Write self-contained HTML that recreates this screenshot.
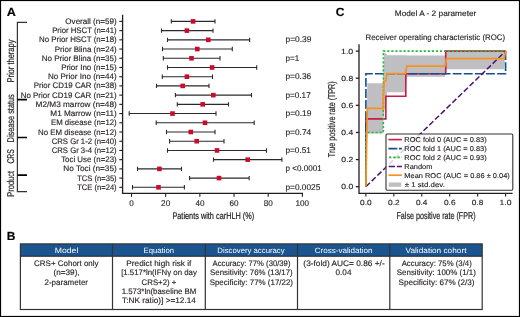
<!DOCTYPE html>
<html><head><meta charset="utf-8"><style>html,body{margin:0;padding:0;background:#fff;width:520px;height:317px;overflow:hidden} svg text{font-family:"Liberation Sans",sans-serif;text-rendering:geometricPrecision} svg{will-change:transform}</style></head>
<body>
<svg width="520" height="317" viewBox="0 0 520 317" style="position:absolute;left:0;top:0">
<rect x="0" y="0" width="520" height="317" fill="#fff"/>
<text x="6.78" y="15.90" font-size="11.8" textLength="9.15" lengthAdjust="spacingAndGlyphs" font-weight="bold" fill="#000" stroke="#000" stroke-width="0.14">A</text>
<path d="M122.6 14.7 V193.3 H303" stroke="#231f20" stroke-width="1.3" fill="none"/>
<path d="M119.30 21.40 H122.6" stroke="#231f20" stroke-width="1.1"/>
<path d="M119.30 30.62 H122.6" stroke="#231f20" stroke-width="1.1"/>
<path d="M119.30 39.83 H122.6" stroke="#231f20" stroke-width="1.1"/>
<path d="M119.30 49.05 H122.6" stroke="#231f20" stroke-width="1.1"/>
<path d="M119.30 58.27 H122.6" stroke="#231f20" stroke-width="1.1"/>
<path d="M119.30 67.48 H122.6" stroke="#231f20" stroke-width="1.1"/>
<path d="M119.30 76.70 H122.6" stroke="#231f20" stroke-width="1.1"/>
<path d="M119.30 85.92 H122.6" stroke="#231f20" stroke-width="1.1"/>
<path d="M119.30 95.14 H122.6" stroke="#231f20" stroke-width="1.1"/>
<path d="M119.30 104.35 H122.6" stroke="#231f20" stroke-width="1.1"/>
<path d="M119.30 113.57 H122.6" stroke="#231f20" stroke-width="1.1"/>
<path d="M119.30 122.79 H122.6" stroke="#231f20" stroke-width="1.1"/>
<path d="M119.30 132.00 H122.6" stroke="#231f20" stroke-width="1.1"/>
<path d="M119.30 141.22 H122.6" stroke="#231f20" stroke-width="1.1"/>
<path d="M119.30 150.44 H122.6" stroke="#231f20" stroke-width="1.1"/>
<path d="M119.30 159.66 H122.6" stroke="#231f20" stroke-width="1.1"/>
<path d="M119.30 168.87 H122.6" stroke="#231f20" stroke-width="1.1"/>
<path d="M119.30 178.09 H122.6" stroke="#231f20" stroke-width="1.1"/>
<path d="M119.30 187.31 H122.6" stroke="#231f20" stroke-width="1.1"/>
<path d="M131.50 193.3 V196.8" stroke="#231f20" stroke-width="1.1"/>
<text x="129.24" y="205.70" font-size="8.3" textLength="4.52" lengthAdjust="spacingAndGlyphs" fill="#231f20" stroke="#231f20" stroke-width="0.14">0</text>
<path d="M165.68 193.3 V196.8" stroke="#231f20" stroke-width="1.1"/>
<text x="161.11" y="205.70" font-size="8.3" textLength="9.05" lengthAdjust="spacingAndGlyphs" fill="#231f20" stroke="#231f20" stroke-width="0.14">20</text>
<path d="M199.86 193.3 V196.8" stroke="#231f20" stroke-width="1.1"/>
<text x="195.40" y="205.70" font-size="8.3" textLength="9.05" lengthAdjust="spacingAndGlyphs" fill="#231f20" stroke="#231f20" stroke-width="0.14">40</text>
<path d="M234.04 193.3 V196.8" stroke="#231f20" stroke-width="1.1"/>
<text x="229.47" y="205.70" font-size="8.3" textLength="9.05" lengthAdjust="spacingAndGlyphs" fill="#231f20" stroke="#231f20" stroke-width="0.14">60</text>
<path d="M268.22 193.3 V196.8" stroke="#231f20" stroke-width="1.1"/>
<text x="263.68" y="205.70" font-size="8.3" textLength="9.05" lengthAdjust="spacingAndGlyphs" fill="#231f20" stroke="#231f20" stroke-width="0.14">80</text>
<path d="M302.40 193.3 V196.8" stroke="#231f20" stroke-width="1.1"/>
<text x="295.46" y="205.70" font-size="8.3" textLength="13.57" lengthAdjust="spacingAndGlyphs" fill="#231f20" stroke="#231f20" stroke-width="0.14">100</text>
<path d="M171.30 21.40 H215.00 M171.30 19.20 V23.60 M215.00 19.20 V23.60" stroke="#2a2a2a" stroke-width="1.1" fill="none"/>
<rect x="190.80" y="19.10" width="4.6" height="4.6" fill="#cc0a2e"/>
<text x="65.32" y="23.90" font-size="8.0" textLength="51.38" lengthAdjust="spacingAndGlyphs" fill="#231f20" stroke="#231f20" stroke-width="0.14">Overall (n=59)</text>
<path d="M161.50 30.62 H213.00 M161.50 28.42 V32.82 M213.00 28.42 V32.82" stroke="#2a2a2a" stroke-width="1.1" fill="none"/>
<rect x="184.60" y="28.32" width="4.6" height="4.6" fill="#cc0a2e"/>
<text x="52.16" y="33.12" font-size="8.0" textLength="64.52" lengthAdjust="spacingAndGlyphs" fill="#231f20" stroke="#231f20" stroke-width="0.14">Prior HSCT (n=41)</text>
<path d="M167.50 39.83 H249.60 M167.50 37.63 V42.03 M249.60 37.63 V42.03" stroke="#2a2a2a" stroke-width="1.1" fill="none"/>
<rect x="206.00" y="37.53" width="4.6" height="4.6" fill="#cc0a2e"/>
<text x="39.05" y="42.33" font-size="8.0" textLength="77.63" lengthAdjust="spacingAndGlyphs" fill="#231f20" stroke="#231f20" stroke-width="0.14">No Prior HSCT (n=18)</text>
<path d="M162.50 49.05 H232.30 M162.50 46.85 V51.25 M232.30 46.85 V51.25" stroke="#2a2a2a" stroke-width="1.1" fill="none"/>
<rect x="195.00" y="46.75" width="4.6" height="4.6" fill="#cc0a2e"/>
<text x="54.85" y="51.55" font-size="8.0" textLength="61.84" lengthAdjust="spacingAndGlyphs" fill="#231f20" stroke="#231f20" stroke-width="0.14">Prior Blina (n=24)</text>
<path d="M163.30 58.27 H220.00 M163.30 56.07 V60.47 M220.00 56.07 V60.47" stroke="#2a2a2a" stroke-width="1.1" fill="none"/>
<rect x="189.20" y="55.97" width="4.6" height="4.6" fill="#cc0a2e"/>
<text x="41.74" y="60.77" font-size="8.0" textLength="74.95" lengthAdjust="spacingAndGlyphs" fill="#231f20" stroke="#231f20" stroke-width="0.14">No Prior Blina (n=35)</text>
<path d="M167.50 67.48 H256.70 M167.50 65.28 V69.69 M256.70 65.28 V69.69" stroke="#2a2a2a" stroke-width="1.1" fill="none"/>
<rect x="209.80" y="65.19" width="4.6" height="4.6" fill="#cc0a2e"/>
<text x="61.15" y="69.98" font-size="8.0" textLength="55.55" lengthAdjust="spacingAndGlyphs" fill="#231f20" stroke="#231f20" stroke-width="0.14">Prior Ino (n=15)</text>
<path d="M162.30 76.70 H212.50 M162.30 74.50 V78.90 M212.50 74.50 V78.90" stroke="#2a2a2a" stroke-width="1.1" fill="none"/>
<rect x="184.60" y="74.40" width="4.6" height="4.6" fill="#cc0a2e"/>
<text x="47.94" y="79.20" font-size="8.0" textLength="68.76" lengthAdjust="spacingAndGlyphs" fill="#231f20" stroke="#231f20" stroke-width="0.14">No Prior Ino (n=44)</text>
<path d="M156.50 85.92 H209.00 M156.50 83.72 V88.12 M209.00 83.72 V88.12" stroke="#2a2a2a" stroke-width="1.1" fill="none"/>
<rect x="180.40" y="83.62" width="4.6" height="4.6" fill="#cc0a2e"/>
<text x="33.75" y="88.42" font-size="8.0" textLength="82.93" lengthAdjust="spacingAndGlyphs" fill="#231f20" stroke="#231f20" stroke-width="0.14">Prior CD19 CAR (n=38)</text>
<path d="M175.40 95.14 H251.50 M175.40 92.94 V97.34 M251.50 92.94 V97.34" stroke="#2a2a2a" stroke-width="1.1" fill="none"/>
<rect x="211.00" y="92.84" width="4.6" height="4.6" fill="#cc0a2e"/>
<text x="20.65" y="97.64" font-size="8.0" textLength="96.04" lengthAdjust="spacingAndGlyphs" fill="#231f20" stroke="#231f20" stroke-width="0.14">No Prior CD19 CAR (n=21)</text>
<path d="M177.30 104.35 H228.50 M177.30 102.15 V106.55 M228.50 102.15 V106.55" stroke="#2a2a2a" stroke-width="1.1" fill="none"/>
<rect x="200.40" y="102.05" width="4.6" height="4.6" fill="#cc0a2e"/>
<text x="35.63" y="106.85" font-size="8.0" textLength="81.08" lengthAdjust="spacingAndGlyphs" fill="#231f20" stroke="#231f20" stroke-width="0.14">M2/M3 marrow (n=48)</text>
<path d="M129.20 113.57 H216.00 M129.20 111.37 V115.77 M216.00 111.37 V115.77" stroke="#2a2a2a" stroke-width="1.1" fill="none"/>
<rect x="170.20" y="111.27" width="4.6" height="4.6" fill="#cc0a2e"/>
<text x="50.34" y="116.07" font-size="8.0" textLength="66.37" lengthAdjust="spacingAndGlyphs" fill="#231f20" stroke="#231f20" stroke-width="0.14">M1 Marrow (n=11)</text>
<path d="M156.20 122.79 H254.20 M156.20 120.59 V124.99 M254.20 120.59 V124.99" stroke="#2a2a2a" stroke-width="1.1" fill="none"/>
<rect x="202.70" y="120.49" width="4.6" height="4.6" fill="#cc0a2e"/>
<text x="50.96" y="125.29" font-size="8.0" textLength="65.72" lengthAdjust="spacingAndGlyphs" fill="#231f20" stroke="#231f20" stroke-width="0.14">EM disease (n=12)</text>
<path d="M166.50 132.00 H215.00 M166.50 129.80 V134.20 M215.00 129.80 V134.20" stroke="#2a2a2a" stroke-width="1.1" fill="none"/>
<rect x="188.50" y="129.70" width="4.6" height="4.6" fill="#cc0a2e"/>
<text x="38.05" y="134.50" font-size="8.0" textLength="78.64" lengthAdjust="spacingAndGlyphs" fill="#231f20" stroke="#231f20" stroke-width="0.14">No EM disease (n=12)</text>
<path d="M169.60 141.22 H224.00 M169.60 139.02 V143.42 M224.00 139.02 V143.42" stroke="#2a2a2a" stroke-width="1.1" fill="none"/>
<rect x="194.40" y="138.92" width="4.6" height="4.6" fill="#cc0a2e"/>
<text x="51.71" y="143.72" font-size="8.0" textLength="64.97" lengthAdjust="spacingAndGlyphs" fill="#231f20" stroke="#231f20" stroke-width="0.14">CRS Gr 1-2 (n=40)</text>
<path d="M167.50 150.44 H266.50 M167.50 148.24 V152.64 M266.50 148.24 V152.64" stroke="#2a2a2a" stroke-width="1.1" fill="none"/>
<rect x="214.70" y="148.14" width="4.6" height="4.6" fill="#cc0a2e"/>
<text x="51.71" y="152.94" font-size="8.0" textLength="64.97" lengthAdjust="spacingAndGlyphs" fill="#231f20" stroke="#231f20" stroke-width="0.14">CRS Gr 3-4 (n=12)</text>
<path d="M213.50 159.66 H281.90 M213.50 157.46 V161.85 M281.90 157.46 V161.85" stroke="#2a2a2a" stroke-width="1.1" fill="none"/>
<rect x="245.40" y="157.35" width="4.6" height="4.6" fill="#cc0a2e"/>
<text x="61.13" y="162.16" font-size="8.0" textLength="55.56" lengthAdjust="spacingAndGlyphs" fill="#231f20" stroke="#231f20" stroke-width="0.14">Toci Use (n=23)</text>
<path d="M137.50 168.87 H181.50 M137.50 166.67 V171.07 M181.50 166.67 V171.07" stroke="#2a2a2a" stroke-width="1.1" fill="none"/>
<rect x="157.10" y="166.57" width="4.6" height="4.6" fill="#cc0a2e"/>
<text x="63.34" y="171.37" font-size="8.0" textLength="53.36" lengthAdjust="spacingAndGlyphs" fill="#231f20" stroke="#231f20" stroke-width="0.14">No Toci (n=35)</text>
<path d="M189.60 178.09 H249.20 M189.60 175.89 V180.29 M249.20 175.89 V180.29" stroke="#2a2a2a" stroke-width="1.1" fill="none"/>
<rect x="216.70" y="175.79" width="4.6" height="4.6" fill="#cc0a2e"/>
<text x="77.23" y="180.59" font-size="8.0" textLength="39.44" lengthAdjust="spacingAndGlyphs" fill="#231f20" stroke="#231f20" stroke-width="0.14">TCS (n=35)</text>
<path d="M132.50 187.31 H184.40 M132.50 185.11 V189.51 M184.40 185.11 V189.51" stroke="#2a2a2a" stroke-width="1.1" fill="none"/>
<rect x="156.20" y="185.01" width="4.6" height="4.6" fill="#cc0a2e"/>
<text x="77.23" y="189.81" font-size="8.0" textLength="39.44" lengthAdjust="spacingAndGlyphs" fill="#231f20" stroke="#231f20" stroke-width="0.14">TCE (n=24)</text>
<text x="285.46" y="42.43" font-size="8.3" textLength="25.94" lengthAdjust="spacingAndGlyphs" fill="#231f20" stroke="#231f20" stroke-width="0.14">p=0.39</text>
<text x="285.47" y="60.87" font-size="8.3" textLength="13.82" lengthAdjust="spacingAndGlyphs" fill="#231f20" stroke="#231f20" stroke-width="0.14">p=1</text>
<text x="285.46" y="79.30" font-size="8.3" textLength="25.70" lengthAdjust="spacingAndGlyphs" fill="#231f20" stroke="#231f20" stroke-width="0.14">p=0.36</text>
<text x="285.47" y="97.74" font-size="8.3" textLength="25.24" lengthAdjust="spacingAndGlyphs" fill="#231f20" stroke="#231f20" stroke-width="0.14">p=0.17</text>
<text x="285.46" y="116.17" font-size="8.3" textLength="26.04" lengthAdjust="spacingAndGlyphs" fill="#231f20" stroke="#231f20" stroke-width="0.14">p=0.19</text>
<text x="285.46" y="134.60" font-size="8.3" textLength="25.78" lengthAdjust="spacingAndGlyphs" fill="#231f20" stroke="#231f20" stroke-width="0.14">p=0.74</text>
<text x="285.47" y="153.04" font-size="8.3" textLength="25.33" lengthAdjust="spacingAndGlyphs" fill="#231f20" stroke="#231f20" stroke-width="0.14">p=0.51</text>
<text x="285.48" y="171.47" font-size="8.3" textLength="36.22" lengthAdjust="spacingAndGlyphs" fill="#231f20" stroke="#231f20" stroke-width="0.14">p &lt;0.0001</text>
<text x="285.47" y="189.91" font-size="8.3" textLength="34.78" lengthAdjust="spacingAndGlyphs" fill="#231f20" stroke="#231f20" stroke-width="0.14">p=0.0025</text>
<text x="172.40" y="218.50" font-size="9.6" textLength="81.86" lengthAdjust="spacingAndGlyphs" fill="#231f20" stroke="#231f20" stroke-width="0.22">Patients with carHLH (%)</text>
<path d="M27 22.3 H17.4 V191.6 H27" stroke="#333" stroke-width="1.2" fill="none"/>
<path d="M17.4 99.6 H27 M17.4 137.5 H27 M17.4 175.2 H27" stroke="#000" stroke-width="1.7" fill="none"/>
<text transform="translate(14.20,82.62) rotate(-90)" x="0" y="0" font-size="9.8" textLength="43.13" lengthAdjust="spacingAndGlyphs" fill="#231f20" stroke="#231f20" stroke-width="0.2">Prior therapy</text>
<text transform="translate(14.20,142.40) rotate(-90)" x="0" y="0" font-size="9.8" textLength="48.17" lengthAdjust="spacingAndGlyphs" fill="#231f20" stroke="#231f20" stroke-width="0.2">Disease status</text>
<text transform="translate(14.20,163.55) rotate(-90)" x="0" y="0" font-size="9.8" textLength="14.36" lengthAdjust="spacingAndGlyphs" fill="#231f20" stroke="#231f20" stroke-width="0.2">CRS</text>
<text transform="translate(14.20,196.71) rotate(-90)" x="0" y="0" font-size="9.8" textLength="25.67" lengthAdjust="spacingAndGlyphs" fill="#231f20" stroke="#231f20" stroke-width="0.2">Product</text>
<text x="335.80" y="15.80" font-size="11.8" textLength="8.73" lengthAdjust="spacingAndGlyphs" font-weight="bold" fill="#000" stroke="#000" stroke-width="0.14">C</text>
<text x="394.73" y="16.20" font-size="7.9" textLength="81.61" lengthAdjust="spacingAndGlyphs" fill="#231f20" stroke="#231f20" stroke-width="0.14">Model A - 2 parameter</text>
<text x="365.55" y="40.00" font-size="8.0" textLength="139.63" lengthAdjust="spacingAndGlyphs" fill="#231f20" stroke="#231f20" stroke-width="0.14">Receiver operating characteristic (ROC)</text>
<path d="M365.90 186.70 L367.31 83.23 L368.72 83.23 L370.13 83.23 L371.54 83.23 L372.96 83.23 L374.37 83.23 L375.78 83.23 L377.19 83.23 L378.60 83.23 L380.01 83.23 L381.42 83.23 L382.83 83.23 L384.24 53.05 L385.66 53.05 L387.07 55.25 L388.48 55.25 L389.89 55.25 L391.30 55.25 L392.71 55.25 L394.12 55.25 L395.53 55.25 L396.94 55.25 L398.36 55.25 L399.77 55.25 L401.18 55.25 L402.59 55.25 L404.00 55.25 L405.41 55.25 L406.82 55.51 L408.23 55.51 L409.64 55.51 L411.06 55.51 L412.47 55.51 L413.88 55.51 L415.29 55.51 L416.70 55.51 L418.11 55.51 L419.52 55.51 L420.93 55.51 L422.34 55.51 L423.76 55.51 L425.17 55.51 L426.58 55.51 L427.99 55.51 L429.40 55.51 L430.81 55.51 L432.22 55.51 L433.63 55.51 L435.04 55.51 L436.46 55.51 L437.87 55.51 L439.28 55.51 L440.69 55.51 L442.10 55.51 L443.51 55.51 L444.92 55.51 L446.33 51.10 L447.74 51.10 L449.16 51.10 L450.57 51.10 L451.98 51.10 L453.39 51.10 L454.80 51.10 L456.21 51.10 L457.62 51.10 L459.03 51.10 L460.44 51.10 L461.86 51.10 L463.27 51.10 L464.68 51.10 L466.09 51.10 L467.50 51.10 L468.91 51.10 L470.32 51.10 L471.73 51.10 L473.14 51.10 L474.56 51.10 L475.97 51.10 L477.38 51.10 L478.79 51.10 L480.20 51.10 L481.61 51.10 L483.02 51.10 L484.43 51.10 L485.84 51.10 L487.26 51.10 L488.67 51.10 L490.08 51.10 L491.49 51.10 L492.90 51.10 L494.31 51.10 L495.72 51.10 L497.13 51.10 L498.54 51.10 L499.96 51.10 L501.37 51.10 L502.78 51.10 L504.19 51.10 L505.60 51.10 L505.60 51.10 L504.19 69.29 L502.78 69.29 L501.37 69.29 L499.96 69.29 L498.54 69.29 L497.13 69.29 L495.72 69.29 L494.31 69.29 L492.90 69.29 L491.49 69.29 L490.08 69.29 L488.67 69.29 L487.26 69.29 L485.84 69.29 L484.43 69.29 L483.02 69.29 L481.61 69.29 L480.20 69.29 L478.79 69.29 L477.38 69.29 L475.97 69.29 L474.56 69.29 L473.14 69.29 L471.73 69.29 L470.32 69.29 L468.91 69.29 L467.50 69.29 L466.09 69.29 L464.68 69.29 L463.27 69.29 L461.86 69.29 L460.44 69.29 L459.03 69.29 L457.62 69.29 L456.21 69.29 L454.80 69.29 L453.39 69.29 L451.98 69.29 L450.57 69.29 L449.16 69.29 L447.74 69.29 L446.33 69.29 L444.92 76.82 L443.51 76.82 L442.10 76.82 L440.69 76.82 L439.28 76.82 L437.87 76.82 L436.46 76.82 L435.04 76.82 L433.63 76.82 L432.22 76.82 L430.81 76.82 L429.40 76.82 L427.99 76.82 L426.58 76.82 L425.17 76.82 L423.76 76.82 L422.34 76.82 L420.93 76.82 L419.52 76.82 L418.11 76.82 L416.70 76.82 L415.29 76.82 L413.88 76.82 L412.47 76.82 L411.06 76.82 L409.64 76.82 L408.23 76.82 L406.82 76.82 L405.41 92.15 L404.00 92.15 L402.59 92.15 L401.18 92.15 L399.77 92.15 L398.36 92.15 L396.94 92.15 L395.53 92.15 L394.12 92.15 L392.71 92.15 L391.30 92.15 L389.89 92.15 L388.48 92.15 L387.07 92.15 L385.66 109.42 L384.24 109.42 L382.83 133.47 L381.42 133.47 L380.01 133.47 L378.60 133.47 L377.19 133.47 L375.78 133.47 L374.37 133.47 L372.96 133.47 L371.54 133.47 L370.13 133.47 L368.72 133.47 L367.31 133.47 L365.90 186.70Z" fill="#bebec3"/>
<path d="M365.90 186.70 L365.90 118.90 L385.86 118.90 L385.86 96.30 L405.81 96.30 L405.81 73.70 L445.73 73.70 L445.73 51.10 L505.60 51.10" stroke="#cc1a42" stroke-width="1.6" fill="none"/>
<path d="M365.90 186.70 L365.90 73.70 L505.60 73.70 L505.60 51.10" stroke="#11508c" stroke-width="1.6" fill="none" stroke-dasharray="8.9 2.2"/>
<path d="M365.90 186.70 L365.90 132.46 L383.36 132.46 L383.36 51.10 L505.60 51.10" stroke="#28b83c" stroke-width="1.6" fill="none" stroke-dasharray="2.2 1.85" stroke-dashoffset="1.0"/>
<path d="M365.9 186.7 L505.59999999999997 51.099999999999994" stroke="#4b166f" stroke-width="1.5" fill="none" stroke-dasharray="5.6 2.43"/>
<path d="M365.90 186.70 L367.31 108.35 L368.72 108.35 L370.13 108.35 L371.54 108.35 L372.96 108.35 L374.37 108.35 L375.78 108.35 L377.19 108.35 L378.60 108.35 L380.01 108.35 L381.42 108.35 L382.83 108.35 L384.24 81.23 L385.66 81.23 L387.07 73.70 L388.48 73.70 L389.89 73.70 L391.30 73.70 L392.71 73.70 L394.12 73.70 L395.53 73.70 L396.94 73.70 L398.36 73.70 L399.77 73.70 L401.18 73.70 L402.59 73.70 L404.00 73.70 L405.41 73.70 L406.82 66.17 L408.23 66.17 L409.64 66.17 L411.06 66.17 L412.47 66.17 L413.88 66.17 L415.29 66.17 L416.70 66.17 L418.11 66.17 L419.52 66.17 L420.93 66.17 L422.34 66.17 L423.76 66.17 L425.17 66.17 L426.58 66.17 L427.99 66.17 L429.40 66.17 L430.81 66.17 L432.22 66.17 L433.63 66.17 L435.04 66.17 L436.46 66.17 L437.87 66.17 L439.28 66.17 L440.69 66.17 L442.10 66.17 L443.51 66.17 L444.92 66.17 L446.33 58.63 L447.74 58.63 L449.16 58.63 L450.57 58.63 L451.98 58.63 L453.39 58.63 L454.80 58.63 L456.21 58.63 L457.62 58.63 L459.03 58.63 L460.44 58.63 L461.86 58.63 L463.27 58.63 L464.68 58.63 L466.09 58.63 L467.50 58.63 L468.91 58.63 L470.32 58.63 L471.73 58.63 L473.14 58.63 L474.56 58.63 L475.97 58.63 L477.38 58.63 L478.79 58.63 L480.20 58.63 L481.61 58.63 L483.02 58.63 L484.43 58.63 L485.84 58.63 L487.26 58.63 L488.67 58.63 L490.08 58.63 L491.49 58.63 L492.90 58.63 L494.31 58.63 L495.72 58.63 L497.13 58.63 L498.54 58.63 L499.96 58.63 L501.37 58.63 L502.78 58.63 L504.19 58.63 L505.60 51.10" stroke="#f7921f" stroke-width="1.7" fill="none"/>
<path d="M359 44.2 V193.3 H512.6" stroke="#231f20" stroke-width="1.3" fill="none"/>
<path d="M355.8 186.70 H359" stroke="#231f20" stroke-width="1.3"/>
<text x="341.37" y="189.30" font-size="7.4" textLength="11.87" lengthAdjust="spacingAndGlyphs" fill="#231f20" stroke="#231f20" stroke-width="0.14">0.0</text>
<path d="M365.90 193.3 V196.6" stroke="#231f20" stroke-width="1.1"/>
<text x="360.13" y="205.40" font-size="7.4" textLength="11.55" lengthAdjust="spacingAndGlyphs" fill="#231f20" stroke="#231f20" stroke-width="0.14">0.0</text>
<path d="M355.8 159.58 H359" stroke="#231f20" stroke-width="1.3"/>
<text x="341.36" y="162.18" font-size="7.4" textLength="11.97" lengthAdjust="spacingAndGlyphs" fill="#231f20" stroke="#231f20" stroke-width="0.14">0.2</text>
<path d="M393.84 193.3 V196.6" stroke="#231f20" stroke-width="1.1"/>
<text x="388.06" y="205.40" font-size="7.4" textLength="11.65" lengthAdjust="spacingAndGlyphs" fill="#231f20" stroke="#231f20" stroke-width="0.14">0.2</text>
<path d="M355.8 132.46 H359" stroke="#231f20" stroke-width="1.3"/>
<text x="341.37" y="135.06" font-size="7.4" textLength="11.78" lengthAdjust="spacingAndGlyphs" fill="#231f20" stroke="#231f20" stroke-width="0.14">0.4</text>
<path d="M421.78 193.3 V196.6" stroke="#231f20" stroke-width="1.1"/>
<text x="416.01" y="205.40" font-size="7.4" textLength="11.46" lengthAdjust="spacingAndGlyphs" fill="#231f20" stroke="#231f20" stroke-width="0.14">0.4</text>
<path d="M355.8 105.34 H359" stroke="#231f20" stroke-width="1.3"/>
<text x="341.37" y="107.94" font-size="7.4" textLength="11.91" lengthAdjust="spacingAndGlyphs" fill="#231f20" stroke="#231f20" stroke-width="0.14">0.6</text>
<path d="M449.72 193.3 V196.6" stroke="#231f20" stroke-width="1.1"/>
<text x="443.94" y="205.40" font-size="7.4" textLength="11.59" lengthAdjust="spacingAndGlyphs" fill="#231f20" stroke="#231f20" stroke-width="0.14">0.6</text>
<path d="M355.8 78.22 H359" stroke="#231f20" stroke-width="1.3"/>
<text x="341.37" y="80.82" font-size="7.4" textLength="11.91" lengthAdjust="spacingAndGlyphs" fill="#231f20" stroke="#231f20" stroke-width="0.14">0.8</text>
<path d="M477.66 193.3 V196.6" stroke="#231f20" stroke-width="1.1"/>
<text x="471.88" y="205.40" font-size="7.4" textLength="11.59" lengthAdjust="spacingAndGlyphs" fill="#231f20" stroke="#231f20" stroke-width="0.14">0.8</text>
<path d="M355.8 51.10 H359" stroke="#231f20" stroke-width="1.3"/>
<text x="341.03" y="53.70" font-size="7.4" textLength="12.21" lengthAdjust="spacingAndGlyphs" fill="#231f20" stroke="#231f20" stroke-width="0.14">1.0</text>
<path d="M505.60 193.3 V196.6" stroke="#231f20" stroke-width="1.1"/>
<text x="499.50" y="205.40" font-size="7.4" textLength="11.89" lengthAdjust="spacingAndGlyphs" fill="#231f20" stroke="#231f20" stroke-width="0.14">1.0</text>
<text transform="translate(335.10,157.16) rotate(-90)" x="0" y="0" font-size="9.9" textLength="75.80" lengthAdjust="spacingAndGlyphs" fill="#231f20" stroke="#231f20" stroke-width="0.22">True positive rate (TPR)</text>
<text x="396.51" y="218.50" font-size="9.9" textLength="79.03" lengthAdjust="spacingAndGlyphs" fill="#231f20" stroke="#231f20" stroke-width="0.22">False positive rate (FPR)</text>
<rect x="386" y="134" width="126.8" height="56.2" rx="1.2" fill="#fff" fill-opacity="0.8" stroke="#333" stroke-width="1.1"/>
<path d="M388.4 139.6 H401.9" stroke="#cc1a42" stroke-width="1.6"/>
<path d="M388.4 148.6 H401.9" stroke="#11508c" stroke-width="1.6" stroke-dasharray="8.9 1.6"/>
<path d="M389 157.4 H401.9" stroke="#28b83c" stroke-width="1.6" stroke-dasharray="2.4 1.8"/>
<path d="M388.8 166.4 H401.9" stroke="#4b166f" stroke-width="1.5" stroke-dasharray="6.2 1.9"/>
<path d="M388.4 175.2 H401.9" stroke="#f7921f" stroke-width="1.7"/>
<rect x="388.8" y="182.5" width="12.4" height="4.3" fill="#bebec3"/>
<text x="404.39" y="142.10" font-size="7.0" textLength="82.27" lengthAdjust="spacingAndGlyphs" fill="#231f20" stroke="#231f20" stroke-width="0.14">ROC fold 0 (AUC = 0.83)</text>
<text x="404.39" y="151.10" font-size="7.0" textLength="82.27" lengthAdjust="spacingAndGlyphs" fill="#231f20" stroke="#231f20" stroke-width="0.14">ROC fold 1 (AUC = 0.83)</text>
<text x="404.39" y="159.90" font-size="7.0" textLength="82.27" lengthAdjust="spacingAndGlyphs" fill="#231f20" stroke="#231f20" stroke-width="0.14">ROC fold 2 (AUC = 0.93)</text>
<text x="404.39" y="168.90" font-size="7.0" textLength="28.05" lengthAdjust="spacingAndGlyphs" fill="#231f20" stroke="#231f20" stroke-width="0.14">Random</text>
<text x="404.39" y="177.70" font-size="7.0" textLength="105.37" lengthAdjust="spacingAndGlyphs" fill="#231f20" stroke="#231f20" stroke-width="0.14">Mean ROC (AUC = 0.86 ± 0.04)</text>
<text x="404.75" y="187.00" font-size="7.0" textLength="40.16" lengthAdjust="spacingAndGlyphs" fill="#231f20" stroke="#231f20" stroke-width="0.14">± 1 std.dev.</text>
<text x="6.80" y="239.90" font-size="11.8" textLength="8.64" lengthAdjust="spacingAndGlyphs" font-weight="bold" fill="#000" stroke="#000" stroke-width="0.14">B</text>
<rect x="20.4" y="243.9" width="461.80" height="12.3" fill="#1b5590"/>
<rect x="20.4" y="243.9" width="461.80" height="65.6" fill="none" stroke="#333" stroke-width="1.2"/>
<path d="M20.4 256.3 H482.2" stroke="#222" stroke-width="1.1"/>
<path d="M112.5 243.9 V309.5" stroke="#333" stroke-width="1.2"/>
<path d="M205.3 243.9 V309.5" stroke="#333" stroke-width="1.2"/>
<path d="M297.5 243.9 V309.5" stroke="#333" stroke-width="1.2"/>
<path d="M389.8 243.9 V309.5" stroke="#333" stroke-width="1.2"/>
<text x="54.69" y="253.10" font-size="7.7" textLength="23.70" lengthAdjust="spacingAndGlyphs" fill="#fff" stroke="#fff" stroke-width="0">Model</text>
<text x="143.64" y="253.10" font-size="7.7" textLength="30.40" lengthAdjust="spacingAndGlyphs" fill="#fff" stroke="#fff" stroke-width="0">Equation</text>
<text x="217.36" y="253.10" font-size="7.7" textLength="67.25" lengthAdjust="spacingAndGlyphs" fill="#fff" stroke="#fff" stroke-width="0">Discovery accuracy</text>
<text x="314.69" y="253.10" font-size="7.7" textLength="57.83" lengthAdjust="spacingAndGlyphs" fill="#fff" stroke="#fff" stroke-width="0">Cross-validation</text>
<text x="405.56" y="253.10" font-size="7.7" textLength="60.90" lengthAdjust="spacingAndGlyphs" fill="#fff" stroke="#fff" stroke-width="0">Validation cohort</text>
<text x="34.10" y="266.00" font-size="8.0" textLength="64.42" lengthAdjust="spacingAndGlyphs" fill="#231f20" stroke="#231f20" stroke-width="0.14">CRS+ Cohort only</text>
<text x="53.59" y="275.33" font-size="8.0" textLength="26.04" lengthAdjust="spacingAndGlyphs" fill="#231f20" stroke="#231f20" stroke-width="0.14">(n=39),</text>
<text x="44.50" y="284.66" font-size="8.0" textLength="43.53" lengthAdjust="spacingAndGlyphs" fill="#231f20" stroke="#231f20" stroke-width="0.14">2-parameter</text>
<text x="126.32" y="266.00" font-size="8.0" textLength="65.06" lengthAdjust="spacingAndGlyphs" fill="#231f20" stroke="#231f20" stroke-width="0.14">Predict high risk if</text>
<text x="121.14" y="275.33" font-size="8.0" textLength="75.67" lengthAdjust="spacingAndGlyphs" fill="#231f20" stroke="#231f20" stroke-width="0.14">[1.517*ln(IFNγ on day</text>
<text x="141.60" y="284.66" font-size="8.0" textLength="34.78" lengthAdjust="spacingAndGlyphs" fill="#231f20" stroke="#231f20" stroke-width="0.14">CRS+2) +</text>
<text x="121.70" y="293.99" font-size="8.0" textLength="74.64" lengthAdjust="spacingAndGlyphs" fill="#231f20" stroke="#231f20" stroke-width="0.14">1.573*ln(baseline BM</text>
<text x="122.12" y="303.32" font-size="8.0" textLength="73.82" lengthAdjust="spacingAndGlyphs" fill="#231f20" stroke="#231f20" stroke-width="0.14">T:NK ratio)] &gt;=12.14</text>
<text x="212.58" y="266.00" font-size="8.0" textLength="77.89" lengthAdjust="spacingAndGlyphs" fill="#231f20" stroke="#231f20" stroke-width="0.14">Accuracy: 77% (30/39)</text>
<text x="210.04" y="275.33" font-size="8.0" textLength="82.65" lengthAdjust="spacingAndGlyphs" fill="#231f20" stroke="#231f20" stroke-width="0.14">Sensitivity: 76% (13/17)</text>
<text x="209.64" y="284.66" font-size="8.0" textLength="83.35" lengthAdjust="spacingAndGlyphs" fill="#231f20" stroke="#231f20" stroke-width="0.14">Specificity: 77% (17/22)</text>
<text x="303.39" y="266.00" font-size="8.0" textLength="81.28" lengthAdjust="spacingAndGlyphs" fill="#231f20" stroke="#231f20" stroke-width="0.14">(3-fold) AUC= 0.86 +/-</text>
<text x="335.58" y="275.33" font-size="8.0" textLength="15.86" lengthAdjust="spacingAndGlyphs" fill="#231f20" stroke="#231f20" stroke-width="0.14">0.04</text>
<text x="401.68" y="266.00" font-size="8.0" textLength="70.10" lengthAdjust="spacingAndGlyphs" fill="#231f20" stroke="#231f20" stroke-width="0.14">Accuracy: 75% (3/4)</text>
<text x="396.74" y="275.33" font-size="8.0" textLength="79.15" lengthAdjust="spacingAndGlyphs" fill="#231f20" stroke="#231f20" stroke-width="0.14">Sensitivity: 100% (1/1)</text>
<text x="398.53" y="284.66" font-size="8.0" textLength="75.97" lengthAdjust="spacingAndGlyphs" fill="#231f20" stroke="#231f20" stroke-width="0.14">Specificity: 67% (2/3)</text>
<rect x="0.5" y="0.5" width="519" height="316" fill="none" stroke="#000" stroke-width="1.2"/>
</svg>
</body></html>
